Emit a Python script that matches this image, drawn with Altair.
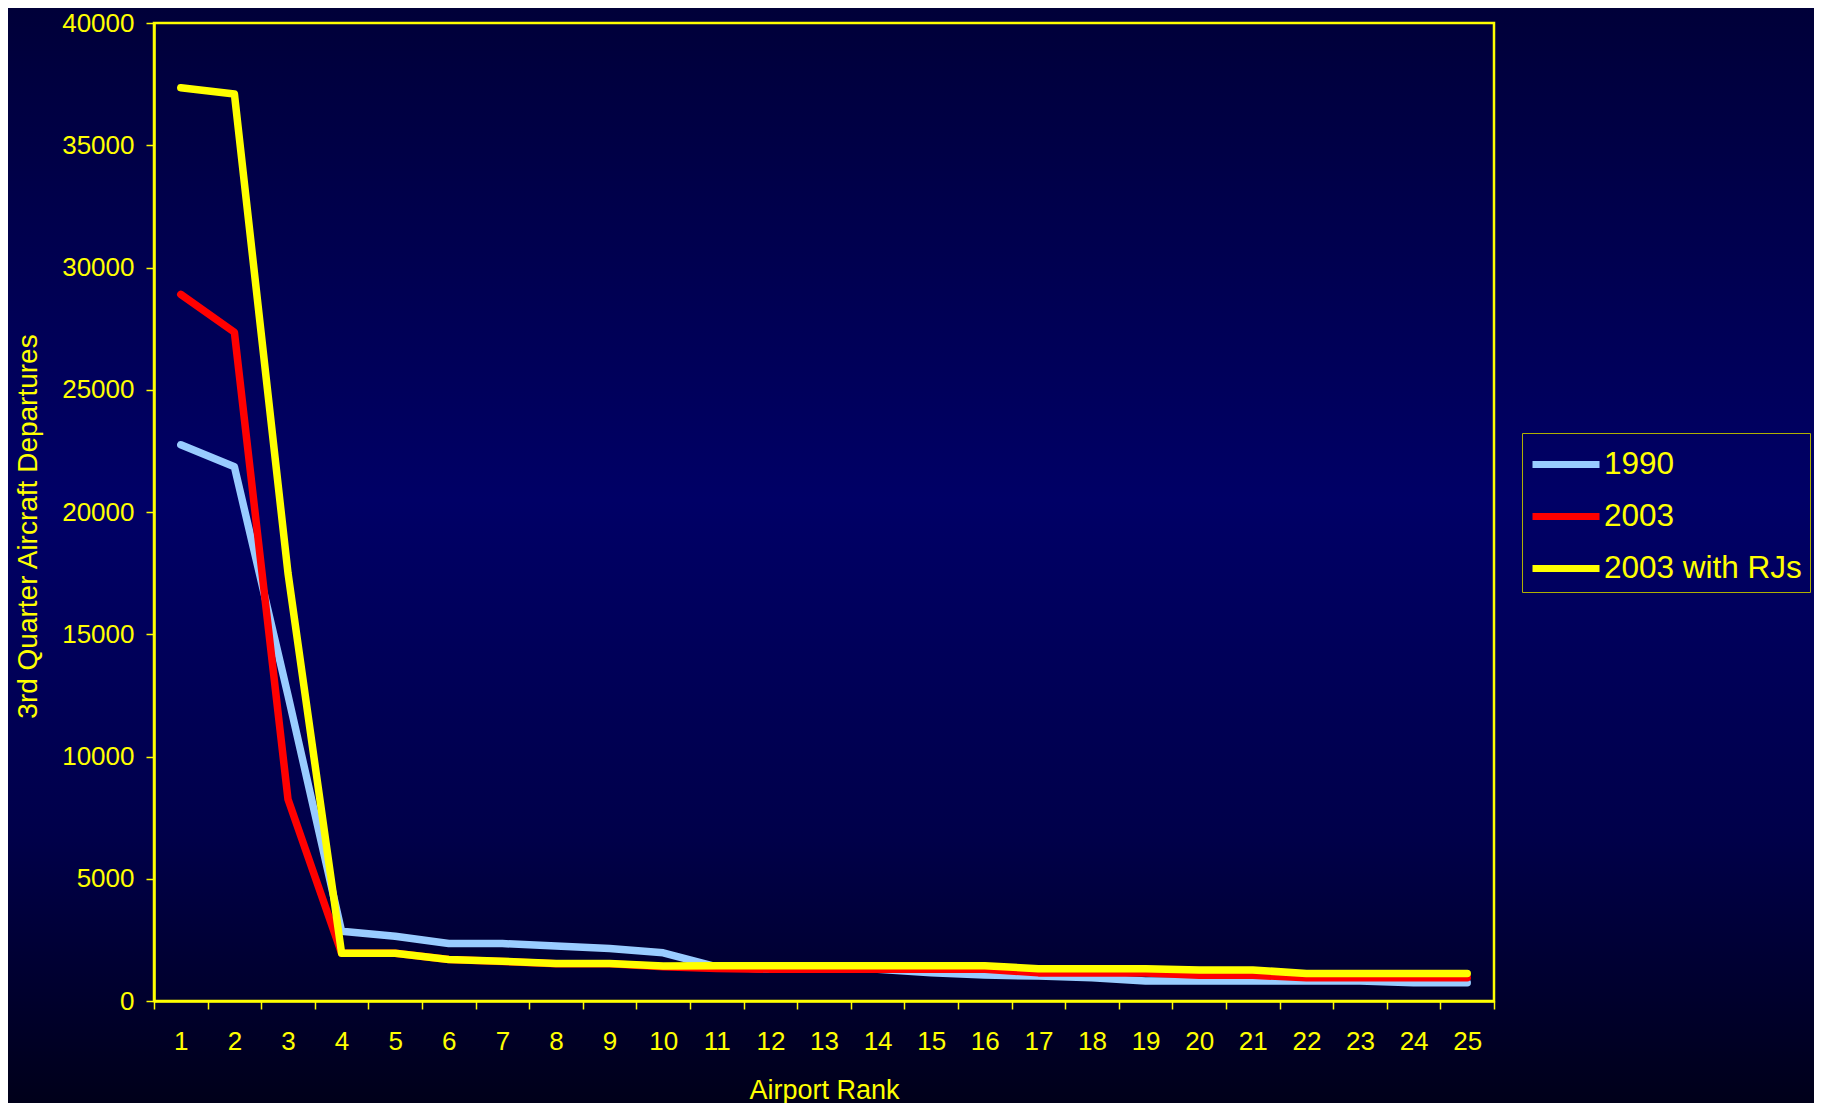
import altair as alt
import pandas as pd

ranks = list(range(1, 26))
s1990 = [22750, 21850, 12500, 2850, 2650, 2350, 2350, 2250, 2150, 1970, 1400, 1300, 1300, 1300,
         1160, 1060, 1020, 950, 820, 820, 820, 820, 820, 750, 750]
s2003 = [28900, 27350, 8250, 1950, 1950, 1700, 1620, 1520, 1520, 1400, 1330, 1300, 1300, 1300,
         1300, 1300, 1150, 1150, 1150, 1050, 1050, 950, 950, 950, 950]
s2003rj = [37350, 37100, 17500, 1950, 1950, 1700, 1630, 1530, 1530, 1430, 1440, 1440, 1440, 1440,
           1440, 1440, 1320, 1320, 1320, 1270, 1270, 1120, 1120, 1120, 1120]
series_names = ["1990", "2003", "2003 with RJs"]
series_colors = ["#99CCFF", "#FF0000", "#FFFF00"]

rows = []
for name, vals in zip(series_names, [s1990, s2003, s2003rj]):
    for r, v in zip(ranks, vals):
        rows.append({"rank": r, "value": v, "series": name})
df = pd.DataFrame(rows)

W, H = 1340, 978
PL, PT, PR, PB = 146, 15, 320, 102
YEL = "#FFFF00"
FONT = "Liberation Sans"

bg = alt.Chart(pd.DataFrame({"a": [0]})).mark_rect(
    fill=alt.Gradient(
        gradient="linear",
        stops=[
            alt.GradientStop(offset=0, color="#000038"),
            alt.GradientStop(offset=0.45, color="#000066"),
            alt.GradientStop(offset=0.75, color="#00004a"),
            alt.GradientStop(offset=1, color="#000018"),
        ],
        x1=0, x2=0, y1=0, y2=1,
    ),
    strokeWidth=0,
).encode(
    x=alt.value(-PL - 10), x2=alt.value(W + PR + 10),
    y=alt.value(-PT - 10), y2=alt.value(H + PB + 10),
)

lines = alt.Chart(df).mark_line(strokeWidth=7.5, strokeCap="round", strokeJoin="round").encode(
    x=alt.X("rank:O", bandPosition=0.5,
            scale=alt.Scale(type="band", paddingInner=0, paddingOuter=0),
            axis=alt.Axis(title="Airport Rank", labelAngle=0, tickBand="extent",
                          labelFontSize=26, labelPadding=19, titleFontSize=27,
                          titlePadding=23, zindex=1)),
    y=alt.Y("value:Q", scale=alt.Scale(domain=[0, 40000], nice=False),
            axis=alt.Axis(title="3rd Quarter Aircraft Departures", values=list(range(0, 40001, 5000)),
                          format="d", labelFontSize=26, labelPadding=12, titleFontSize=28,
                          titlePadding=19, titleY=H / 2 + 14, grid=False, zindex=1)),
    color=alt.Color("series:N", sort=series_names,
                    scale=alt.Scale(domain=series_names, range=series_colors),
                    legend=alt.Legend(title=None, orient="none", legendX=1368, legendY=410,
                                      symbolType="M-1.05,0L2.3,0", symbolSize=1600,
                                      symbolStrokeWidth=7, labelFontSize=31.5, labelOffset=27,
                                      labelLimit=0, rowPadding=13, padding=8, strokeColor="#B0B000",
                                      labelColor=YEL, labelFont=FONT, zindex=1)),
    order=alt.Order("rank:Q"),
    detail="series:N",
)

border = alt.Chart(pd.DataFrame({"a": [0]})).mark_rect(
    fillOpacity=0, stroke=YEL, strokeWidth=2.5,
).encode(x=alt.value(0), x2=alt.value(W), y=alt.value(0), y2=alt.value(H))

chart = alt.layer(bg, lines, border).properties(
    width=W, height=H,
    padding={"left": PL, "top": PT, "right": PR, "bottom": PB},
    autosize=alt.AutoSizeParams(type="none"),
    background="#000020",
).configure_view(stroke=None).configure_axis(
    domainColor=YEL, domainWidth=2.5, tickColor=YEL, tickWidth=1.5, tickSize=8,
    labelColor=YEL, titleColor=YEL, labelFont=FONT, titleFont=FONT,
    titleFontWeight="normal",
)

chart.save("out.html", embed_options={"renderer": "svg", "actions": False})
